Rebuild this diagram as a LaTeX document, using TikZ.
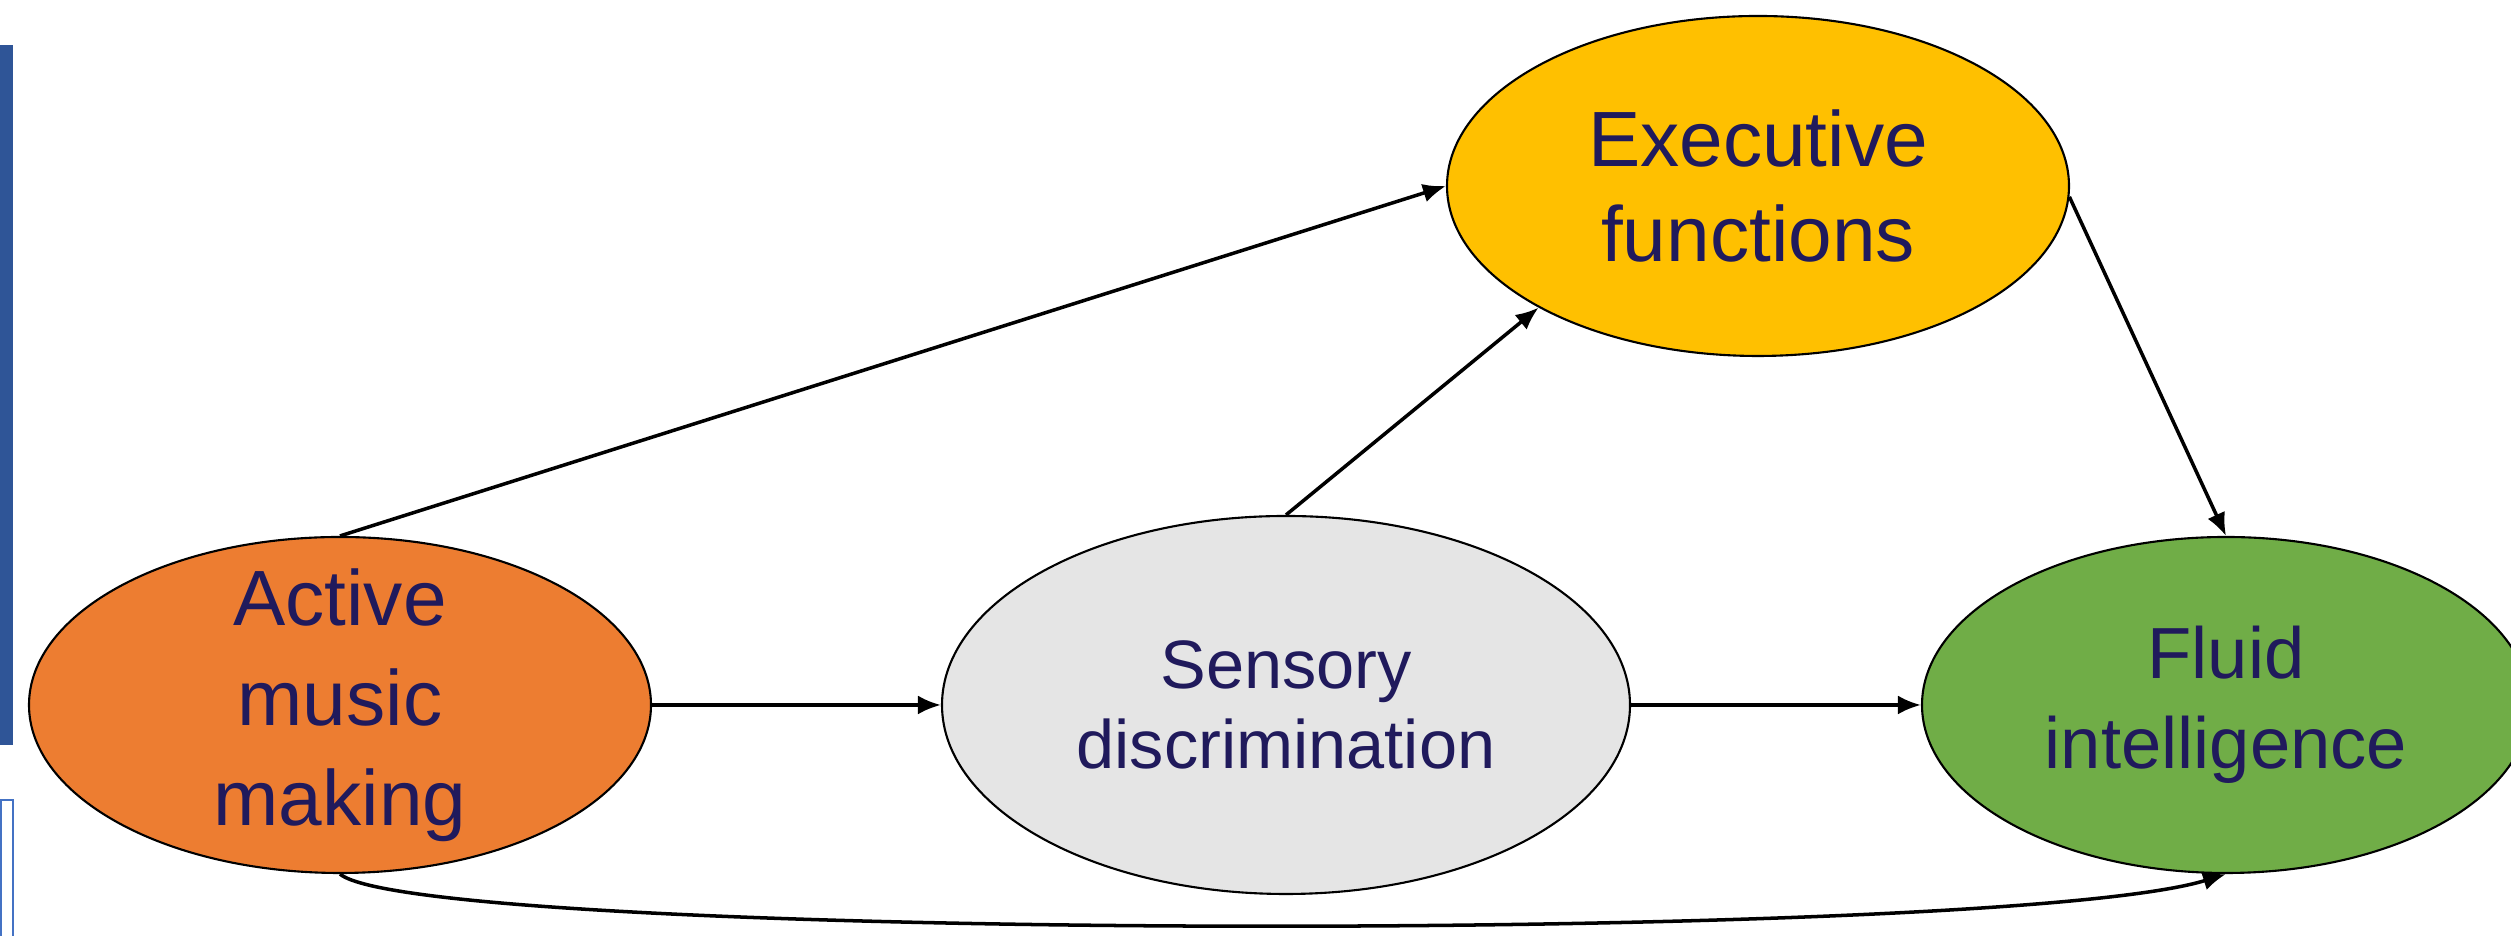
\documentclass[tikz,border=0pt]{standalone}
\usepackage{fontspec}
\setmainfont{Liberation Sans}
\usetikzlibrary{shapes.geometric,arrows.meta}
\definecolor{orange}{rgb}{0.929, 0.490, 0.192}
\definecolor{yellow}{rgb}{1.0, 0.753, 0.0}
\definecolor{green}{rgb}{0.439, 0.678, 0.278}
\definecolor{grey}{rgb}{0.898, 0.898, 0.898}
\definecolor{navy}{rgb}{0.125, 0.102, 0.361}
\definecolor{bar}{rgb}{0.184, 0.333, 0.592}
\definecolor{frame}{rgb}{0.267, 0.447, 0.769}

\begin{document}
\begin{tikzpicture}[
        bubble/.style={ellipse,draw=black,line width=0.6pt,inner sep=0pt,text=navy,align=center},
        arrow/.style={draw=black,line width=1pt,-{Latex[length=2.3mm,width=1.9mm]}}
    ]
        \useasboundingbox (0,0) rectangle (25.11,9.36);

        % left margin marks
        \draw[draw=none,fill=bar] (0,1.91) rectangle (0.13,8.91);
        \draw[draw=frame,line width=0.6pt] (0.005,-0.2) -- (0.005,1.36) -- (0.13,1.36) -- (0.13,-0.2);

        % ellipses
        \node[bubble,fill=orange,minimum width=6.22cm,minimum height=3.36cm,inner ysep=-0.19cm,
              font=\fontsize{22.3}{28.4}\selectfont] (active) at (3.40,2.31) {Active\\music\\making};
        \node[bubble,fill=grey,minimum width=6.88cm,minimum height=3.78cm,
              font=\fontsize{19.5}{22.8}\selectfont] (sensory) at (12.86,2.31) {Sensory\\discrimination};
        \node[bubble,fill=yellow,minimum width=6.22cm,minimum height=3.40cm,
              font=\fontsize{22.3}{27.3}\selectfont] (executive) at (17.58,7.50) {Executive\\functions};
        \node[bubble,fill=green,minimum width=6.08cm,minimum height=3.36cm,
              font=\fontsize{20.6}{25.6}\selectfont] (fluid) at (22.26,2.31) {Fluid\\intelligence};

        % straight arrows
        \foreach \from/\to in {active.north/executive.west,active.east/sensory.west,sensory.north/executive.209,sensory.east/fluid.west,executive.358/fluid.north}{
            \draw[arrow] (\from) -- (\to);
        }

        % curved arrow below
        \draw[arrow] (active.south) .. controls (4.2,-0.05) and (20,-0.08) .. (fluid.south);
    \end{tikzpicture}
\end{document}
